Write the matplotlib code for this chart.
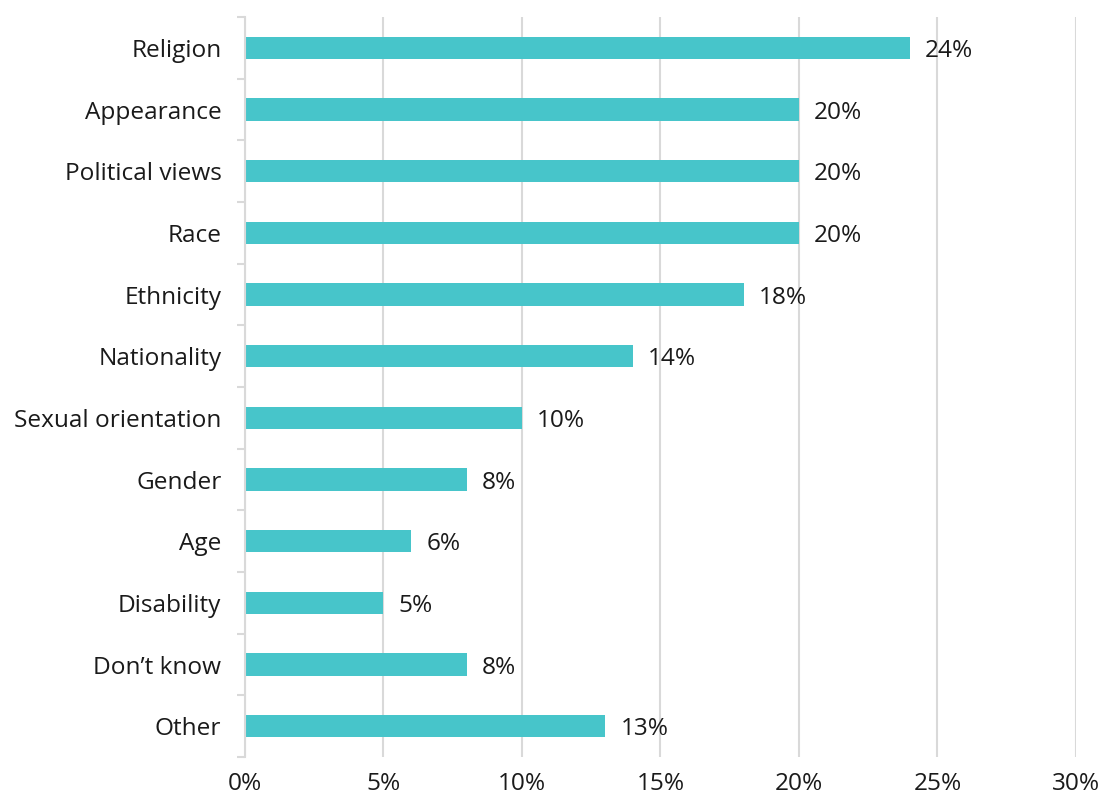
import matplotlib
matplotlib.use("Agg")
import matplotlib.pyplot as plt
from matplotlib.ticker import FixedLocator, FuncFormatter
import numpy as np

categories = ["Religion", "Appearance", "Political views", "Race", "Ethnicity",
              "Nationality", "Sexual orientation", "Gender", "Age", "Disability",
              "Don\u2019t know", "Other"]
values = [24, 20, 20, 20, 18, 14, 10, 8, 6, 5, 8, 13]
xticks = [0, 5, 10, 15, 20, 25, 30]

plt.rcParams["font.family"] = ["Open Sans", "DejaVu Sans"]

BAR = "#47C5CA"
GRID = "#D9D9D9"
TEXT = "#1A1A1A"
FS = 17.6

fig = plt.figure(figsize=(11.04, 7.98), dpi=100)
ax = fig.add_axes([245 / 1104, 1 - 757 / 798, (1076 - 245) / 1104, (757 - 17) / 798])

y = np.arange(len(categories))
ax.barh(y, values, height=0.36, color=BAR, zorder=3)

for yi, v in zip(y, values):
    ax.text(v + 0.55, yi, f"{v}%", va="center_baseline", ha="left", fontsize=FS, color=TEXT, zorder=4)

ax.set_xlim(0, 30)
ax.set_ylim(len(categories) - 0.5, -0.5)

ax.xaxis.set_major_locator(FixedLocator(xticks))
ax.xaxis.set_major_formatter(FuncFormatter(lambda v, p: f"{v:.0f}%"))
ax.grid(axis="x", color=GRID, linewidth=1.5, zorder=0)
ax.tick_params(axis="x", length=0, pad=11, labelsize=FS, labelcolor=TEXT)

ax.set_yticks(y)
ax.set_yticklabels(categories, va="center_baseline")
ax.tick_params(axis="y", which="major", length=0, pad=17, labelsize=FS, labelcolor=TEXT)
ax.yaxis.set_minor_locator(FixedLocator(np.arange(-0.5, len(categories), 1.0)))
ax.tick_params(axis="y", which="minor", length=6, width=1.5, color=GRID, direction="out")

for s in ["top", "right", "bottom"]:
    ax.spines[s].set_visible(False)
ax.spines["left"].set_color(GRID)
ax.spines["left"].set_linewidth(1.5)
ax.spines["left"].set_zorder(5)

fig.savefig("out.png", dpi=100, facecolor="white")
